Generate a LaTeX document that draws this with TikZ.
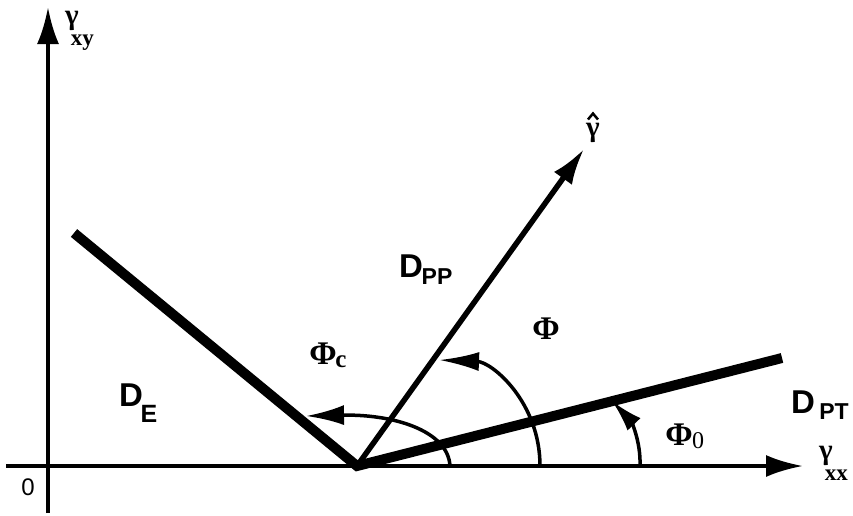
\documentclass[tikz,border=0pt]{standalone}
\usepackage{fontspec}
\setmainfont{Liberation Sans}
\newfontfamily\serifb{Liberation Serif}
\usetikzlibrary{arrows.meta}
\begin{document}
\begin{tikzpicture}[x=1pt,y=-1pt,
  axis/.style={line width=4pt,-{Latex[length=37pt,width=22pt]}},
  thickline/.style={line width=10pt},
  ray/.style={line width=5.5pt,-{Latex[length=36pt,width=22pt]}},
  anglearc/.style={line width=3.5pt,-{Latex[length=40pt,width=19pt]}},
  lbl/.style={inner sep=0pt,font=\fontsize{33}{36}\selectfont\bfseries},
  sub/.style={inner sep=0pt,font=\fontsize{23}{26}\selectfont\bfseries},
  grk/.style={inner sep=0pt,font=\fontsize{33}{36}\selectfont\serifb\bfseries},
  grks/.style={inner sep=0pt,font=\fontsize{25}{28}\selectfont\serifb\bfseries},
  gam/.style={inner sep=0pt,anchor=base west,font=\fontsize{29}{34}\selectfont\serifb\bfseries},
  num/.style={inner sep=0pt,font=\fontsize{24}{28}\selectfont},
]
\newcommand{\gsubtxt}[1]{\hspace{-8pt}\raisebox{-21pt}{\fontsize{23}{28}\selectfont #1}}
\useasboundingbox (0,0) rectangle (853,515);

% coordinates
\coordinate (xl) at (6,466);
\coordinate (xr) at (803,466);
\coordinate (yb) at (48,513);
\coordinate (yt) at (48,7);
\coordinate (V) at (357,466);
\coordinate (E) at (74,233);
\coordinate (PT) at (782,358);
\coordinate (G) at (584,149);

% axes
\draw[axis] (xl) -- (xr);
\draw[axis] (yb) -- (yt);

% boundaries
\draw[thickline] (E) -- (V) -- (PT);
\draw[ray] (V) -- (G);

% angle arcs
\coordinate (a0s) at (640,466);
\coordinate (a0e) at (612,401);
\draw[anglearc,-{Latex[length=32pt,width=18pt]}] (a0s) .. controls (641,440) and (630,420) .. (a0e);
\coordinate (as) at (540,466);
\coordinate (ae) at (439,360);
\draw[anglearc] (as) .. controls (540,402) and (492,362) .. (ae);
\coordinate (acs) at (450,466);
\coordinate (ace) at (306,416);
\draw[anglearc,-{Latex[length=38pt,width=20pt]}] (acs) .. controls (448,430) and (392,414) .. (ace);

% labels
\node[num] (zero) at (28,487) {0};
\node[gam] (gxy) at (65,24) {γ\gsubtxt{xy}};
\node[gam] (gxx) at (819,459) {γ\gsubtxt{xx}};
\node[gam] (gh) at (586,136) {γ};
\draw[line width=2.5pt] ([xshift=-5pt,yshift=3pt]gh.north) -- ([yshift=9pt]gh.north) -- ([xshift=5pt,yshift=3pt]gh.north);

\node[lbl] (DE) at (131,395) {D};
\node[sub,font=\fontsize{25}{28}\selectfont\bfseries] (DEs) at (149,414) {E};
\node[lbl] (DPP) at (411,266) {D};
\node[sub] (DPPs) at (437,277) {PP};
\node[lbl] (DPT) at (803,402) {D};
\node[sub] (DPTs) at (834,412) {PT};

\node[grk] (Phi) at (546,329) {Φ};
\node[grk] (Phic) at (323,354) {Φ};
\node[grks] (Phics) at (341,362) {c};
\node[grk] (Phi0) at (679,435) {Φ};
\node[grks,font=\fontsize{24}{28}\selectfont\serifb] (Phi0s) at (698,441) {0};
\end{tikzpicture}
\end{document}
